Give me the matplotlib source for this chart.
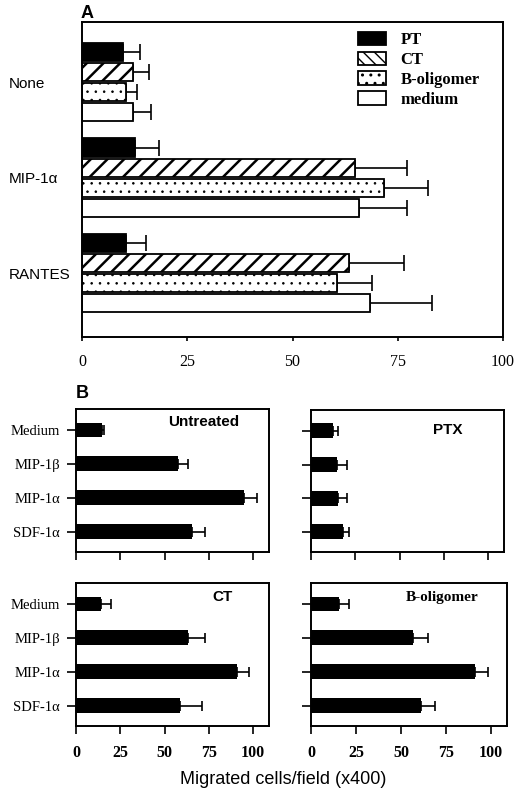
import matplotlib
matplotlib.use('Agg')
import matplotlib.pyplot as plt
from matplotlib.patches import Patch
import numpy as np

# ---------------- data ----------------
groups_a = ['None', 'MIP-1α', 'RANTES']
series_a = ['PT', 'CT', 'B-oligomer', 'medium']
pt_vals = [9.7, 12.6, 10.5]
pt_err = [4.1, 5.8, 4.6]
ct_vals = [12.2, 64.8, 63.4]
ct_err = [3.6, 12.5, 13.2]
bo_vals = [10.4, 71.7, 60.5]
bo_err = [2.7, 10.4, 8.3]
med_vals = [12.2, 65.9, 68.4]
med_err = [4.1, 11.4, 14.8]
ticks_a = [0, 25, 50, 75, 100]

chemokines = ['Medium', 'MIP-1β', 'MIP-1α', 'SDF-1α']
untreated_vals = [14.5, 57.5, 95.0, 65.5]
untreated_err = [1.5, 6.0, 7.5, 7.5]
ptx_vals = [12.5, 14.5, 15.5, 18.0]
ptx_err = [3.0, 6.0, 5.0, 3.5]
ctb_vals = [14.0, 63.0, 91.0, 59.0]
ctb_err = [5.5, 10.0, 6.5, 12.0]
bolig_vals = [15.3, 56.5, 91.0, 61.0]
bolig_err = [6.0, 8.5, 7.5, 8.0]
ticks_b = [0, 25, 50, 75, 100]
xlabel_b = 'Migrated cells/field (x400)'

# ---------------- figure ----------------
SERIF = 'Liberation Serif'
SANS = 'Liberation Sans'
W, H = 520, 795
fig = plt.figure(figsize=(W / 100, H / 100), dpi=100)


def ax_px(l, t, r, b):
    return fig.add_axes([l / W, 1 - b / H, (r - l) / W, (b - t) / H])


def set_hlw(patches, lw):
    for p in patches:
        if hasattr(p, 'set_hatch_linewidth'):
            p.set_hatch_linewidth(lw)


# ---------------- panel A ----------------
axA = ax_px(82, 22, 503, 337)
vals_list = [pt_vals, ct_vals, bo_vals, med_vals]
err_list = [pt_err, ct_err, bo_err, med_err]
faces = ['black', 'white', 'white', 'white']
hatches = [None, '//', '..', None]
hlws = [1.0, 1.8, 0.6, 1.0]
gpos = np.arange(len(groups_a))
step = 0.21
for i, (name, v, e) in enumerate(zip(series_a, vals_list, err_list)):
    y = gpos + (i - 1.5) * step
    plt.rcParams['hatch.linewidth'] = hlws[i]
    bars = axA.barh(y, v, height=0.19, color=faces[i], edgecolor='black',
                    linewidth=1.3, hatch=hatches[i], zorder=2)
    set_hlw(bars, hlws[i])
    axA.errorbar(v, y, xerr=[np.zeros(len(v)), e], fmt='none',
                 ecolor='black', elinewidth=1.2, capsize=5.5, capthick=1.2,
                 zorder=1)
axA.set_xlim(0, 100)
axA.set_ylim(2.67, -0.63)
axA.set_xticks(ticks_a)
axA.set_xticklabels([str(t) for t in ticks_a], fontfamily=SERIF, fontsize=11.5)
axA.tick_params(axis='x', direction='out', length=3, width=1.2, pad=9)
axA.set_yticks(gpos)
axA.set_yticklabels(groups_a, fontfamily=SANS, fontsize=11, ha='left')
axA.tick_params(axis='y', length=0, pad=53)
for s in axA.spines.values():
    s.set_linewidth(1.4)

leg_hatch = [None, '\\\\\\', '..', None]
leg_hlw = [1.0, 1.8, 0.6, 1.0]
handles = []
for i, name in enumerate(series_a):
    plt.rcParams['hatch.linewidth'] = leg_hlw[i]
    p = Patch(facecolor=faces[i], edgecolor='black', linewidth=1.3,
              hatch=leg_hatch[i], label=name)
    set_hlw([p], leg_hlw[i])
    handles.append(p)
leg = axA.legend(handles=handles, loc='upper left',
                 bbox_to_anchor=(358 / W, 1 - 32 / H),
                 bbox_transform=fig.transFigure, frameon=False,
                 borderpad=0, borderaxespad=0, handlelength=1.7,
                 handleheight=0.85, handletextpad=0.85, labelspacing=0.2,
                 prop={'family': SERIF, 'weight': 'bold', 'size': 12})
fig.text(87 / W, 1 - 13 / H, 'A', fontfamily=SANS, fontweight='bold',
         fontsize=13, ha='center', va='center')

# ---------------- panel B ----------------
fig.text(82 / W, 1 - 394 / H, 'B', fontfamily=SANS, fontweight='bold',
         fontsize=13, ha='center', va='center')

panels = [
    ((76, 409, 269, 552), untreated_vals, untreated_err, 'Untreated', SANS, (0.66, 0.91), True, False),
    ((311, 410, 504, 552), ptx_vals, ptx_err, 'PTX', SANS, (0.71, 0.86), False, False),
    ((76, 583, 269, 726), ctb_vals, ctb_err, 'CT', SANS, (0.76, 0.9), True, True),
    ((311, 583, 507, 726), bolig_vals, bolig_err, 'B-oligomer', SERIF, (0.67, 0.9), False, True),
]
cpos = np.arange(len(chemokines))
for rect, v, e, title, tfam, tpos, ylab, xlab in panels:
    ax = ax_px(*rect)
    ax.barh(cpos, v, height=0.44, color='black', zorder=2)
    ax.errorbar(v, cpos, xerr=[np.zeros(len(v)), e], fmt='none',
                ecolor='black', elinewidth=1.2, capsize=3.6, capthick=1.2,
                zorder=1)
    ax.set_xlim(0, 109)
    ax.set_ylim(3.6, -0.62)
    ax.set_xticks(ticks_b)
    ax.set_yticks(cpos)
    if xlab:
        ax.set_xticklabels([str(t) for t in ticks_b], fontfamily=SERIF,
                           fontweight='bold', fontsize=11.5)
    else:
        ax.set_xticklabels([])
    if ylab:
        ax.set_yticklabels(chemokines, fontfamily=SERIF, fontsize=10.5)
    else:
        ax.set_yticklabels([])
    ax.tick_params(axis='x', direction='out', length=5.5, width=1.2, pad=8)
    ax.tick_params(axis='y', direction='out', length=6.5, width=1.2, pad=5)
    for s in ax.spines.values():
        s.set_linewidth(1.4)
    ax.text(tpos[0], tpos[1], title, transform=ax.transAxes,
            fontfamily=tfam, fontweight='bold', fontsize=11,
            ha='center', va='center')

fig.text(283 / W, 1 - 780 / H, xlabel_b, fontfamily=SANS, fontsize=13,
         ha='center', va='center')

fig.savefig('out.png', dpi=100)
